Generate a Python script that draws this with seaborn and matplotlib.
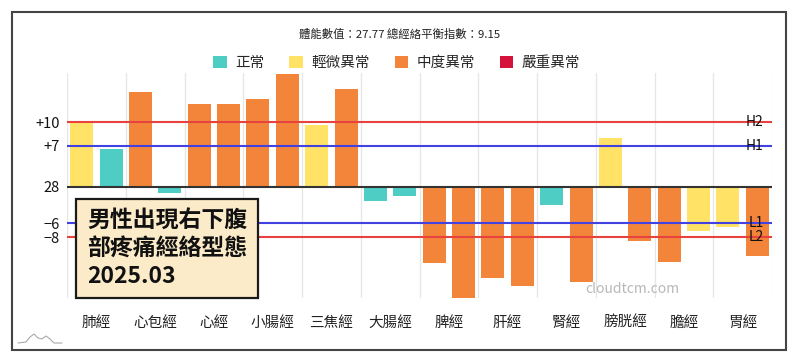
import numpy as np
import pandas as pd
import seaborn as sns
import matplotlib
matplotlib.use("Agg")
import matplotlib.pyplot as plt
from matplotlib.patches import Patch, Rectangle
from matplotlib.lines import Line2D

# ---------------- data ----------------
meridians = ["肺經", "心包經", "心經", "小腸經", "三焦經", "大腸經",
             "脾經", "肝經", "腎經", "膀胱經", "膽經", "胃經"]
left_vals = [9.85, 14.64, 12.78, 13.65, 9.58, -2.27,
             -11.79, -14.11, -2.89, 7.53, -11.64, -6.29]
right_vals = [5.83, -0.97, 12.78, 17.42, 15.15, -1.39,
              -17.2, -15.3, -14.73, -8.45, -6.8, -10.77]
left_status = ["輕微異常", "中度異常", "中度異常", "中度異常", "輕微異常", "正常",
               "中度異常", "中度異常", "正常", "輕微異常", "中度異常", "輕微異常"]
right_status = ["正常", "正常", "中度異常", "中度異常", "中度異常", "正常",
                "中度異常", "中度異常", "中度異常", "中度異常", "輕微異常", "中度異常"]
status_names = ["正常", "輕微異常", "中度異常", "嚴重異常"]
status_colors = ["#4ECDC4", "#FFE266", "#F2853A", "#D5123A"]

thresh_vals = [10.0, 6.38, -5.61, -7.83]
thresh_labels = ["+10", "+7", "\u22126", "\u22128"]
thresh_names = ["H2", "H1", "L1", "L2"]
thresh_colors = ["#E8423F", "#4242E2", "#4242E2", "#E8423F"]
baseline_label = "28"
title = "體能數值：27.77 總經絡平衡指數：9.15"
note = "男性出現右下腹\n部疼痛經絡型態\n2025.03"
watermark = "cloudtcm.com"

# ---------------- style ----------------
sns.set_theme(style="white")
plt.rcParams["font.family"] = ["Noto Sans CJK TC", "DejaVu Sans"]
plt.rcParams["axes.unicode_minus"] = True

df = pd.DataFrame({
    "meridian": meridians * 2,
    "side": ["左"] * len(meridians) + ["右"] * len(meridians),
    "value": left_vals + right_vals,
    "status": left_status + right_status,
})

W, H = 800, 364
fig = plt.figure(figsize=(W / 100, H / 100), dpi=100)
fig.patch.set_facecolor("white")

px_left, px_right, px_top, px_bot = 67, 772, 73, 298
ax = fig.add_axes([px_left / W, 1 - px_bot / H,
                   (px_right - px_left) / W, (px_bot - px_top) / H])

sns.barplot(data=df, x="meridian", y="value", hue="side", order=meridians,
            hue_order=["左", "右"], width=1.0, gap=0.22, legend=False,
            errorbar=None, ax=ax, zorder=3)

color_map = dict(zip(status_names, status_colors))
for cont, stats in zip(ax.containers, [left_status, right_status]):
    for patch, st in zip(cont.patches, stats):
        patch.set_facecolor(color_map[st])
        patch.set_edgecolor("none")

ax.set_xlim(-0.5, len(meridians) - 0.5)
ax.set_ylim(-17.2, 17.6)

for b in np.arange(-0.5, len(meridians), 1.0):
    ax.axvline(b, color="#e6e6e6", lw=0.9, zorder=1)

for v, c in zip(thresh_vals, thresh_colors):
    ax.axhline(v, color=c, lw=1.5, zorder=4)
ax.axhline(0, color="#333333", lw=1.5, zorder=4)

for v, n in zip(thresh_vals, thresh_names):
    ax.text(len(meridians) - 0.64, v, n, ha="right", va="center",
            fontsize=10, color="#111111", zorder=5)

ax.set_yticks(thresh_vals + [0])
ax.set_yticklabels(thresh_labels + [baseline_label])
ax.tick_params(axis="y", length=0, labelsize=10.5, pad=5, colors="#111111")
ax.tick_params(axis="x", length=0, labelsize=10.5, pad=13, colors="#222222")
ax.set_xlabel("")
ax.set_ylabel("")
for s in ax.spines.values():
    s.set_visible(False)
ax.set_facecolor("white")

# title & legend
fig.text(0.5, 1 - 34 / H, title, ha="center", va="center", fontsize=8.2,
         color="#222222")
handles = [Patch(facecolor=c, edgecolor="none") for c in status_colors]
fig.legend(handles, status_names, loc="center", bbox_to_anchor=(0.496, 1 - 63 / H),
           ncol=4, frameon=False, fontsize=10.5, handlelength=0.9,
           handleheight=0.9, columnspacing=1.7, handletextpad=0.6)

# annotation box
fig.text(87 / W, 1 - 210 / H, note, ha="left", va="top", fontsize=16.5,
         fontweight="bold", color="#111111", linespacing=1.24,
         bbox=dict(boxstyle="square,pad=0.46", fc="#FCEBC9", ec="#1a1a1a", lw=1.6),
         zorder=10)

# watermark
fig.text(632 / W, 1 - 289 / H, watermark, ha="center", va="center",
         fontsize=10, color="#b8b8b8")

# outer frame
fig.add_artist(Rectangle((12 / W, 1 - 350 / H), (786 - 12) / W, (350 - 12) / H,
                         transform=fig.transFigure, fill=False, ec="#444444", lw=1.5))

# small logo
lx = np.array([18, 26, 30, 34, 38, 42, 46, 50, 54, 62]) / W
ly = 1 - np.array([343, 342, 337, 334, 338, 339, 336, 339, 343, 343]) / H
fig.add_artist(Line2D(lx, ly, transform=fig.transFigure, color="#aaaaaa", lw=0.8))

fig.savefig("out.png", dpi=100)
